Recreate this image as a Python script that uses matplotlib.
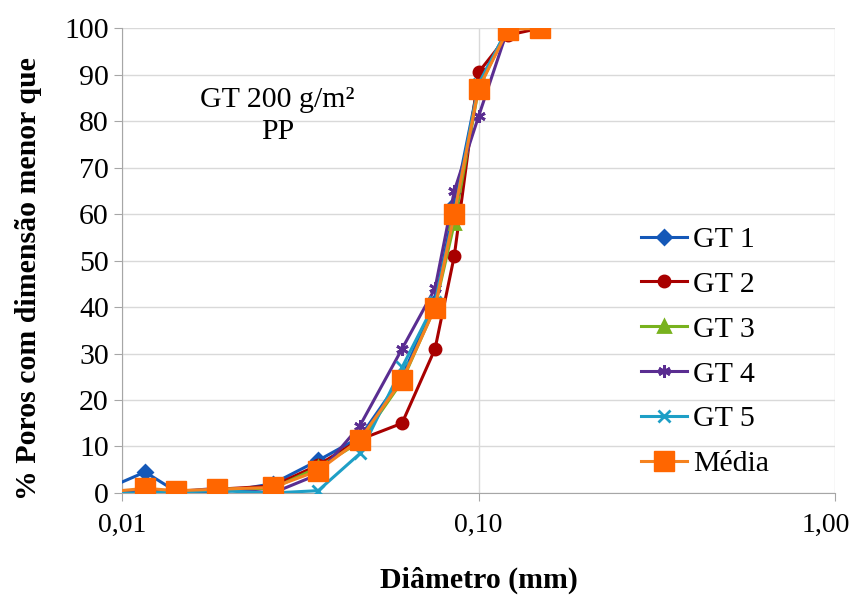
import numpy as np
import matplotlib
matplotlib.use("Agg")
import matplotlib.pyplot as plt
from matplotlib.ticker import FixedLocator, NullLocator
from matplotlib.transforms import ScaledTranslation

# diametro (mm) - primeiro ponto fica fora do eixo (cortado)
diam = [0.0085, 0.0116, 0.0142, 0.0185, 0.0265, 0.0355, 0.0465, 0.061, 0.0755, 0.0855, 0.1, 0.121, 0.149]

gt1 = [0.0, 4.5, 0.3, 0.0, 2.0, 7.0, 12.0, 25.0, 41.0, 62.0, 88.0, 100.0, 100.0]
gt2 = [0.0, 0.5, 0.3, 0.8, 1.5, 6.0, 11.5, 15.0, 31.0, 51.0, 90.5, 98.5, 100.0]
gt3 = [0.0, 0.0, 0.3, 0.8, 1.0, 5.5, 11.0, 24.0, 40.0, 58.0, 87.0, 100.0, 100.0]
gt4 = [0.0, 0.5, 0.3, 1.0, 0.0, 4.0, 14.5, 31.0, 44.0, 65.0, 81.0, 100.0, 100.0]
gt5 = [0.0, 0.0, 0.2, 0.5, 0.0, 0.5, 8.5, 27.0, 41.0, 60.0, 88.0, 100.0, 100.0]
media = [0.0, 1.0, 0.5, 0.8, 1.2, 4.8, 11.5, 24.3, 39.8, 60.0, 87.0, 99.7, 100.0]

labels = ["GT 1", "GT 2", "GT 3", "GT 4", "GT 5", "Média"]
colors = ["#1458B8", "#A80000", "#78B21E", "#5A2D91", "#1E9FC6", "#FF7A1A"]
markers = ["D", "o", "^", (6, 2, 0), "x", "s"]
msizes = [7, 8, 8, 9, 8, 14]

plt.rcParams['font.family'] = ['Liberation Serif', 'DejaVu Serif']
fs = 21.5

fig = plt.figure(figsize=(8.57, 5.99), dpi=100)
ax = fig.add_axes([0.1424, 0.177, 0.832, 0.776])

series = [gt1, gt2, gt3, gt4, gt5, media]
for i in range(len(series)):
    if i == 5:
        ax.plot(diam, series[i], color="#F5821F", lw=2.2, marker=markers[i],
                ms=msizes[i], mfc="#FF6600", mec="#FF6600", label=labels[i], zorder=5)
    else:
        ax.plot(diam, series[i], color=colors[i], lw=2.2, marker=markers[i],
                ms=msizes[i], mfc=colors[i], mec=colors[i], mew=2, label=labels[i], zorder=3)

ax.set_xscale('log')
ax.set_xlim(0.01, 1.0)
ax.set_ylim(0, 100)
ax.xaxis.set_major_locator(FixedLocator([0.01, 0.1, 1.0]))
ax.xaxis.set_minor_locator(NullLocator())
ax.set_xticklabels(["0,01", "0,10", "1,00"])
ax.set_yticks(np.arange(0, 101, 10))

ax.grid(True, color="#D9D9D9", lw=1)
ax.set_axisbelow(True)
for s in ["top", "right"]:
    ax.spines[s].set_visible(False)
ax.spines["left"].set_color("#A6A6A6")
ax.spines["bottom"].set_color("#A6A6A6")
ax.tick_params(axis='both', colors="#A6A6A6", labelcolor="black", labelsize=fs, length=6)
ax.tick_params(axis='x', pad=8, labelsize=20)

# ultimo rotulo puxado um pouco para a esquerda para caber na figura
last = ax.get_xticklabels()[-1]
last.set_transform(last.get_transform() + ScaledTranslation(-7 / 72, 0, fig.dpi_scale_trans))

ax.set_xlabel("Diâmetro (mm)", fontsize=fs, fontweight='bold', labelpad=21)
ax.set_ylabel("% Poros com dimensão menor que", fontsize=fs, fontweight='bold')
ax.yaxis.set_label_coords(-0.112, 0.462)

ax.text(0.217, 0.845, "GT 200 g/m²", transform=ax.transAxes, ha='center', va='center', fontsize=fs)
ax.text(0.219, 0.776, "PP", transform=ax.transAxes, ha='center', va='center', fontsize=fs)

leg = ax.legend(loc='upper left', bbox_to_anchor=(0.707, 0.606), frameon=False, fontsize=fs,
                handlelength=1.55, handletextpad=0.2, labelspacing=0.6, borderpad=0)

fig.savefig("out.png", dpi=100)
